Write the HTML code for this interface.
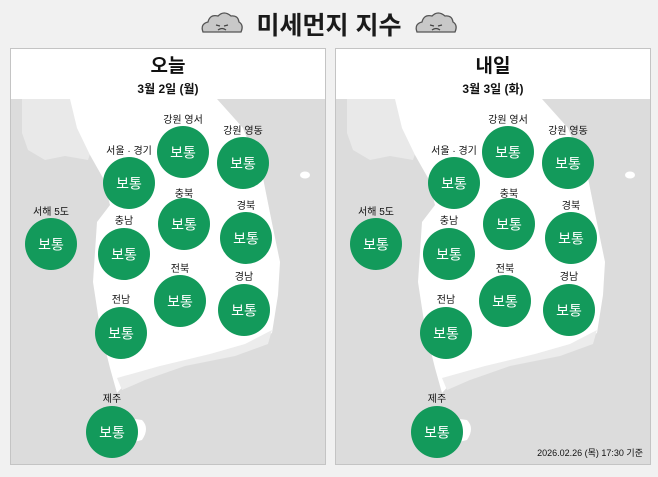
<!DOCTYPE html>
<html><head><meta charset="utf-8"><style>
body{margin:0;background:#f1f1f1;}
svg{display:block}
text{font-family:"Liberation Sans","Noto Sans CJK KR",sans-serif;}
</style></head><body>
<svg width="658" height="477" viewBox="0 0 658 477" xmlns="http://www.w3.org/2000/svg">
<defs>
<g id="cloud">
<path d="M3,22 Q0,14 8,12 Q10,4 18,6 Q24,0 31,6 Q38,5 39,12 Q44,15 41,22 Z" fill="#c8c8c8" stroke="#555" stroke-width="1.3"/>
<path d="M16,15 l4,1 M28,15 l-4,1 M18,20 Q22,17 26,20" stroke="#444" stroke-width="1.2" fill="none"/>
</g>
<g id="panel">
<rect x="0.5" y="0.5" width="315" height="416" fill="#dcdcdc" stroke="#c4c4c4"/>
<rect x="1" y="1" width="314" height="50" fill="#fff"/>
<path d="M12,51 L65,51 L70,75 L82,100 L78,112 L55,108 L35,112 L18,102 L12,85 Z" fill="#e9e9e9"/>
<path d="M60,51 L207,51 L233,80 L253,130 L263,180 L270,214 L268,247 L262,285 L235,300 L200,310 L150,320 L117,334 L107,345 L100,320 L90,280 L83,234 L87,174 L100,157 L93,130 L80,107 L67,80 Z" fill="#fff"/>
<path d="M107,330 L150,318 L200,306 L235,296 L262,282 L258,296 L225,308 L175,318 L135,332 L112,342 Z" fill="#ececec"/>
<path d="M95,380 Q110,368 132,372 Q140,380 132,392 L100,400 Z" fill="#fff"/>
<ellipse cx="295" cy="127" rx="5" ry="3.5" fill="#fff"/>
</g>
<g id="c"><circle r="26" fill="#139a5b"/><text y="5.5" text-anchor="middle" font-size="14" fill="#fff">보통</text></g>
</defs>
<use href="#cloud" x="200" y="10"/>
<use href="#cloud" x="414" y="10"/>
<text x="329" y="34" text-anchor="middle" font-size="25" font-weight="bold" fill="#1a1a1a">미세먼지 지수</text>

<g transform="translate(10,48)"><use href="#panel"/></g>
<g transform="translate(335,48)"><use href="#panel"/></g>

<text x="168" y="72" text-anchor="middle" font-size="19" font-weight="bold" fill="#111">오늘</text>
<text x="168" y="93" text-anchor="middle" font-size="12" font-weight="bold" fill="#111">3월 2일 (월)</text>
<text x="493" y="72" text-anchor="middle" font-size="19" font-weight="bold" fill="#111">내일</text>
<text x="493" y="93" text-anchor="middle" font-size="12" font-weight="bold" fill="#111">3월 3일 (화)</text>

<g id="L">
<g font-size="10" text-anchor="middle" fill="#111">
<text x="183" y="123">강원 영서</text>
<text x="243" y="134">강원 영동</text>
<text x="129" y="154">서울 · 경기</text>
<text x="184" y="197">충북</text>
<text x="246" y="209">경북</text>
<text x="51" y="215">서해 5도</text>
<text x="124" y="224">충남</text>
<text x="180" y="272">전북</text>
<text x="244" y="280">경남</text>
<text x="121" y="303">전남</text>
<text x="112" y="402">제주</text>
</g>
<use href="#c" x="183" y="152"/>
<use href="#c" x="243" y="163"/>
<use href="#c" x="129" y="183"/>
<use href="#c" x="184" y="224"/>
<use href="#c" x="246" y="238"/>
<use href="#c" x="51" y="244"/>
<use href="#c" x="124" y="254"/>
<use href="#c" x="180" y="301"/>
<use href="#c" x="244" y="310"/>
<use href="#c" x="121" y="333"/>
<use href="#c" x="112" y="432"/>
</g>
<use href="#L" x="325" y="0"/>
<text x="643" y="456" text-anchor="end" font-size="9" fill="#111">2026.02.26 (목) 17:30 기준</text>
</svg>
</body></html>
